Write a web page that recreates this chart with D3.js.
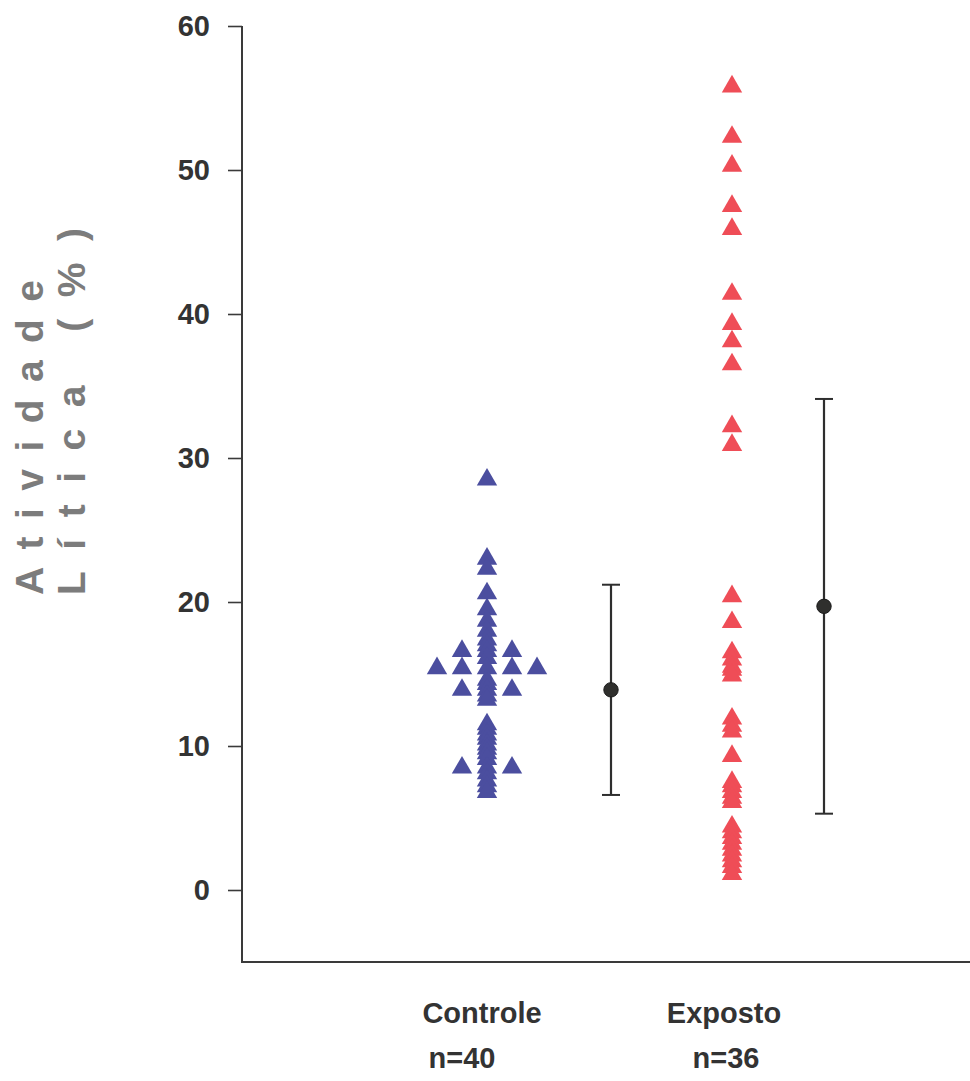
<!DOCTYPE html>
<html>
<head>
<meta charset="utf-8">
<script src="https://cdn.jsdelivr.net/npm/d3@7"></script>
<style>
  html, body { margin: 0; padding: 0; background: #ffffff; }
  svg { display: block; }
  text { font-family: "Liberation Sans", Arial, sans-serif; }
</style>
</head>
<body>
<svg id="chart" width="970" height="1081"></svg>
<script>
// Lytic activity (%) per subject, by group
const groups = ["Controle", "Exposto"];
const groupSizes = ["n=40", "n=36"];

const controleValues = [
  28.7, 23.2, 22.5, 20.8, 19.7, 18.9, 18.2, 17.6, 17.2,
  16.8, 16.8, 16.8, 16.3,
  15.6, 15.6, 15.6, 15.6, 15.6,
  14.8, 14.5, 14.1, 14.1, 14.1, 13.7, 13.4,
  11.7, 11.4, 11.0, 10.7, 10.3, 10.0, 9.7, 9.3,
  8.7, 8.7, 8.7, 8.3, 7.8, 7.4, 7.0
];

const expostoValues = [
  56.0, 52.5, 50.5, 47.7, 46.1, 41.6, 39.5, 38.3, 36.7, 32.4, 31.1,
  20.6, 18.8, 16.7, 16.2, 15.7, 15.5, 15.1,
  12.1, 11.6, 11.2, 9.5,
  7.7, 7.4, 7.0, 6.6, 6.3,
  4.6, 4.2, 3.8, 3.4, 3.0, 2.6, 2.2, 1.8, 1.3
];

// mean ± SD per group
const groupMeans = [13.9, 19.7];
const groupSD = [7.3, 14.4];

const yTicks = [0, 10, 20, 30, 40, 50, 60];

const markerColors = ["#4b4e9f", "#ef4d57"];
const inkColor = "#2e2e2e";

const svg = d3.select("#chart");

const y = d3.scaleLinear().domain([-5, 60]).range([962, 26]);
const xScatter = d3.scalePoint().domain(groups).range([487, 732]);
const summaryOffset = { "Controle": 124, "Exposto": 92 };
const axisX = 242;

// y axis
const yAxis = d3.axisLeft(y).tickValues(yTicks).tickSize(14).tickSizeOuter(0).tickPadding(18)
  .tickFormat(d3.format("d"));
const gy = svg.append("g").attr("transform", `translate(${axisX},0)`).call(yAxis);
gy.select(".domain").attr("stroke", "#3a3a3a").attr("stroke-width", 2)
  .attr("d", `M0,${y(60)}V${y(-5)}`);
gy.selectAll(".tick line").attr("stroke", "#3a3a3a").attr("stroke-width", 1.6);
gy.selectAll(".tick text")
  .attr("fill", "#333").attr("font-size", 29).attr("font-weight", "bold")
  .attr("font-family", "'Liberation Sans', Arial, sans-serif");

// x axis baseline
svg.append("line")
  .attr("x1", axisX - 1).attr("x2", 970)
  .attr("y1", y(-5)).attr("y2", y(-5))
  .attr("stroke", "#3a3a3a").attr("stroke-width", 2);

// y axis title, two rotated lines
const titleLines = [
  { text: "Atividade", x: 43, len: 315 },
  { text: "Lítica (%)", x: 85, len: 367 }
];
svg.selectAll("text.ytitle").data(titleLines).join("text")
  .attr("class", "ytitle")
  .attr("transform", d => `translate(${d.x},595) rotate(-90)`)
  .attr("text-anchor", "start")
  .attr("font-size", 39)
  .attr("font-weight", "bold")
  .attr("fill", "#7c7c7c")
  .attr("textLength", d => d.len)
  .attr("lengthAdjust", "spacing")
  .text(d => d.text);

// scatter of individual values; equal values spread sideways
const triSize = 180;
const triangle = d3.symbol().type(d3.symbolTriangle).size(triSize);
const triHalf = Math.sqrt(triSize / (Math.sqrt(3) * 3)) / 2; // shift to centre the triangle's box
const spread = 25;

function layoutPoints(values, group) {
  const counts = d3.rollup(values, v => v.length, v => v);
  const seen = new Map();
  return values.map(v => {
    const n = counts.get(v);
    const k = seen.get(v) || 0;
    seen.set(v, k + 1);
    return { group, value: v, dx: (k - (n - 1) / 2) * spread };
  });
}

const points = [
  ...layoutPoints(controleValues, "Controle"),
  ...layoutPoints(expostoValues, "Exposto")
];

svg.append("g").selectAll("path").data(points).join("path")
  .attr("d", triangle)
  .attr("transform", d => `translate(${xScatter(d.group) + d.dx},${y(d.value) + triHalf})`)
  .attr("fill", d => markerColors[groups.indexOf(d.group)]);

// mean ± SD
const summary = groups.map((g, i) => ({
  group: g,
  x: xScatter(g) + summaryOffset[g],
  mean: groupMeans[i],
  lo: groupMeans[i] - groupSD[i],
  hi: groupMeans[i] + groupSD[i]
}));
const capW = 9;
const sg = svg.append("g").selectAll("g").data(summary).join("g");
sg.append("line")
  .attr("x1", d => d.x).attr("x2", d => d.x)
  .attr("y1", d => y(d.hi)).attr("y2", d => y(d.lo))
  .attr("stroke", inkColor).attr("stroke-width", 2.2);
sg.append("line")
  .attr("x1", d => d.x - capW).attr("x2", d => d.x + capW)
  .attr("y1", d => y(d.hi)).attr("y2", d => y(d.hi))
  .attr("stroke", inkColor).attr("stroke-width", 2);
sg.append("line")
  .attr("x1", d => d.x - capW).attr("x2", d => d.x + capW)
  .attr("y1", d => y(d.lo)).attr("y2", d => y(d.lo))
  .attr("stroke", inkColor).attr("stroke-width", 2);
sg.append("circle")
  .attr("cx", d => d.x).attr("cy", d => y(d.mean)).attr("r", 7.2)
  .attr("fill", "#2f2f2d").attr("stroke", "#1a1a1a").attr("stroke-width", 1);

// category labels
const labelX = { "Controle": 482, "Exposto": 724 };
const sizeX = { "Controle": 462, "Exposto": 726 };
svg.append("g").selectAll("text").data(groups).join("text")
  .attr("x", d => labelX[d]).attr("y", 1023)
  .attr("text-anchor", "middle")
  .attr("font-size", 29).attr("font-weight", "bold").attr("fill", "#333")
  .text(d => d);
svg.append("g").selectAll("text").data(groups).join("text")
  .attr("x", d => sizeX[d]).attr("y", 1068)
  .attr("text-anchor", "middle")
  .attr("font-size", 29).attr("font-weight", "bold").attr("fill", "#333")
  .text((d, i) => groupSizes[i]);
</script>
</body>
</html>
